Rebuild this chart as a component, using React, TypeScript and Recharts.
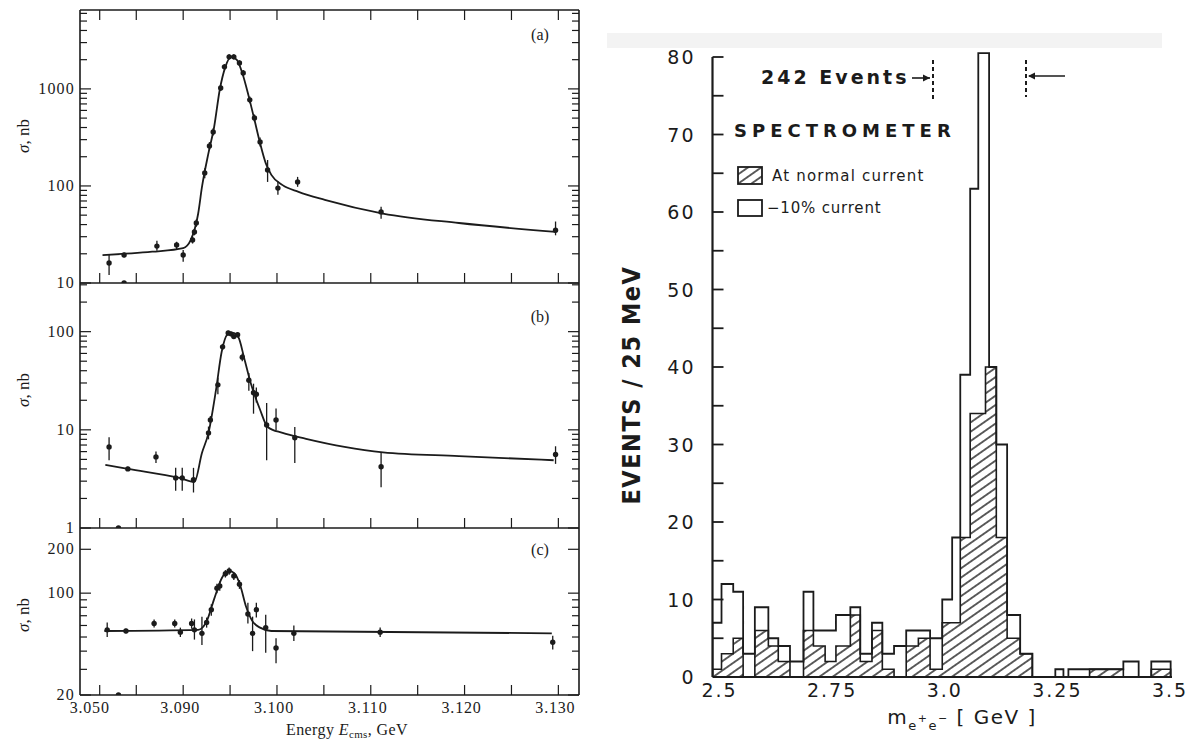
import React from "react";
import {
  ComposedChart,
  Line,
  Scatter,
  ErrorBar,
  Area,
  XAxis,
  YAxis,
  ReferenceLine,
} from "recharts";

const INK = "#1b1b1b";
const SERIF = "'Liberation Serif', 'DejaVu Serif', serif";
const SANS = "'DejaVu Sans', 'Liberation Sans', sans-serif";
const NARROW = "'Liberation Sans Narrow', 'DejaVu Sans Condensed', sans-serif";

// ---- left figure: cross sections vs. energy (GeV) ----
const energyTicks = [3.0811, 3.085, 3.09, 3.095, 3.1, 3.105, 3.11, 3.115, 3.12, 3.125, 3.13];
const energyTickLabels = ["3.050", "", "3.090", "", "3.100", "", "3.110", "", "3.120", "", "3.130"];

// (a)
const aEnergy = [3.0821, 3.0837, 3.0872, 3.0893, 3.09, 3.091, 3.0912, 3.0914, 3.0923, 3.0928, 3.0932, 3.094, 3.0944, 3.0949, 3.0954, 3.096, 3.0964, 3.0971, 3.0976, 3.0982, 3.099, 3.1001, 3.1022, 3.1111, 3.1297];
const aSigma = [16.1, 19.4, 24.0, 24.6, 19.4, 27.7, 33.6, 41.5, 136, 258, 360, 1023, 1687, 2140, 2140, 1853, 1462, 771, 502, 284, 146, 95, 110, 54, 35];
const aLow = [12.1, 18.4, 21.5, 21.9, 16.6, 25.5, 31, 38, 120, 235, 330, 950, 1580, 2010, 2010, 1740, 1360, 710, 460, 255, 110, 81, 98, 46, 31];
const aHigh = [19.5, 20.5, 27.3, 26.6, 21.9, 30, 36, 45, 152, 283, 392, 1100, 1800, 2270, 2270, 1970, 1570, 835, 545, 315, 185, 111, 124, 61, 43];
const aFitE = [3.0814, 3.0867, 3.09, 3.0908, 3.0916, 3.092, 3.0927, 3.0933, 3.0939, 3.0945, 3.0951, 3.0957, 3.0963, 3.097, 3.0976, 3.0982, 3.0988, 3.0994, 3.1006, 3.1023, 3.1051, 3.1113, 3.1194, 3.1297];
const aFitS = [19.4, 21, 22.9, 27.7, 52, 97, 219, 405, 980, 1687, 2140, 2000, 1460, 828, 480, 276, 172, 130, 102, 87, 72, 52, 41.5, 33.6];

// (b)
const bEnergy = [3.0821, 3.0841, 3.0871, 3.0892, 3.0899, 3.0911, 3.0927, 3.0929, 3.0937, 3.0942, 3.0948, 3.0951, 3.0954, 3.0958, 3.0963, 3.097, 3.0975, 3.0978, 3.0989, 3.0999, 3.1019, 3.1111, 3.1297];
const bSigma = [6.7, 4.0, 5.3, 3.24, 3.24, 3.1, 9.3, 12.6, 28.7, 70, 97, 95, 89, 93, 55, 32, 23.9, 23, 11.2, 12.6, 8.3, 4.2, 5.6];
const bLow = [4.9, 3.8, 4.6, 2.4, 2.4, 2.3, 8.0, 11.5, 23, 65, 92, 90, 84, 88, 50, 25, 14.6, 19, 4.9, 9.9, 4.6, 2.6, 4.5];
const bHigh = [8.4, 4.2, 6.0, 4.1, 4.1, 4.1, 10.8, 13.8, 34, 75, 102, 100, 94, 98, 60, 38, 29.5, 27, 18.8, 16.5, 10.7, 5.8, 6.8];
const bFitE = [3.0817, 3.0841, 3.0896, 3.0912, 3.092, 3.0927, 3.0935, 3.0941, 3.0947, 3.0953, 3.0959, 3.0965, 3.0972, 3.0982, 3.099, 3.1006, 3.1031, 3.1072, 3.1113, 3.1194, 3.1295];
const bFitS = [4.4, 4.0, 3.24, 2.95, 5.8, 9.3, 25.5, 62, 93, 97, 87, 54, 30, 16, 10.7, 9.3, 8.1, 6.7, 5.9, 5.4, 4.9];

// (c)
const cEnergy = [3.0819, 3.0839, 3.0869, 3.0891, 3.0897, 3.0909, 3.0912, 3.092, 3.0925, 3.093, 3.0936, 3.0939, 3.0945, 3.0949, 3.0954, 3.096, 3.0969, 3.0974, 3.0978, 3.0988, 3.0999, 3.1018, 3.111, 3.1294];
const cSigma = [56, 55, 62, 62, 54, 62, 56, 53, 63, 77, 108, 112, 136, 142, 131, 115, 72, 53, 77, 58, 42, 53, 54, 46];
const cLow = [50, 53, 58, 58, 50, 57, 48, 44, 58, 70, 100, 104, 128, 134, 123, 107, 62, 40, 68, 39, 33, 47, 50, 41];
const cHigh = [63, 57, 66, 66, 58, 67, 66, 69, 68, 84, 116, 120, 144, 150, 139, 123, 86, 69, 86, 71, 49, 60, 58, 51];
const cFitE = [3.0816, 3.0916, 3.0925, 3.0933, 3.0941, 3.0949, 3.0955, 3.0961, 3.0967, 3.0974, 3.0982, 3.0994, 3.1293];
const cFitS = [55, 56, 64, 91, 126, 142, 136, 112, 81, 64, 58, 55, 53];

// points sitting on the lower frame of each panel
const floorEnergy = [3.0837, 3.0831, 3.0831];

// ---- right figure: invariant mass histogram ----
const massEdges = [2.5, 2.52, 2.546, 2.568, 2.594, 2.624, 2.646, 2.672, 2.702, 2.724, 2.75, 2.774, 2.806, 2.828, 2.854, 2.877, 2.903, 2.93, 2.957, 2.983, 3.01, 3.032, 3.05, 3.072, 3.09, 3.106, 3.114, 3.13, 3.154, 3.183, 3.21, 3.261, 3.279, 3.29, 3.337, 3.412, 3.446, 3.474, 3.517];
const reducedCounts = [7, 12, 11, 3, 9, 5, 4, 2, 11, 6, 6, 8, 9, 3, 7, 3, 4, 6, 6, 5, 10, 18, 39, 63, 80.5, 80.5, 40, 30, 8, 3, 0, 1, 0, 1, 1, 2, 0, 2];
const normalCounts = [1, 3, 5, 0, 6, 4, 2, 0, 6, 4, 2, 4, 8, 2, 6, 1, 0, 4, 5, 1, 7, 7, 18, 34, 34, 40, 40, 18, 5, 3, 0, 0, 0, 0, 1, 0, 0, 1];
const massTicks = [2.5, 2.75, 3.0, 3.25, 3.5];
const massTickLabels = ["2.5", "2.75", "3.0", "3.25", "3.5"];
const countTicks = Array.from({ length: 17 }, (_, i) => i * 5);

const logTicks = (lo: number, hi: number) => {
  const out: number[] = [];
  for (let p = 0; p <= 4; p++) {
    for (let m = 1; m <= 9; m++) {
      const v = m * Math.pow(10, p);
      if (v >= lo && v <= hi) out.push(v);
    }
  }
  return out;
};

const toPoints = (e: number[], s: number[], lo: number[], hi: number[]) =>
  e.map((x, i) => ({ e: x, v: s[i], err: [s[i] - lo[i], hi[i] - s[i]] }));
const toCurve = (e: number[], s: number[]) => e.map((x, i) => ({ e: x, v: s[i] }));

const histSteps: { m: number; reduced: number; normal: number }[] = [{ m: massEdges[0], reduced: 0, normal: 0 }];
reducedCounts.forEach((c, i) => histSteps.push({ m: massEdges[i], reduced: c, normal: normalCounts[i] }));
histSteps.push({ m: massEdges[massEdges.length - 1], reduced: 0, normal: 0 });

// ---- tick renderers (ticks point inwards) ----
const leftTick = (majors: number[]) => (p: any) => {
  const v = p.payload.value;
  const major = majors.includes(v);
  return (
    <g>
      <line x1={p.x} x2={p.x + (major ? 11 : 7)} y1={p.y} y2={p.y} stroke={INK} strokeWidth={1.2} />
      {major && (
        <text x={p.x - 5} y={p.y + 5} textAnchor="end" fontFamily={SERIF} fontSize={16} fill={INK} letterSpacing={1.2}>
          {v}
        </text>
      )}
    </g>
  );
};

const rightTick = (majors: number[]) => (p: any) => {
  const major = majors.includes(p.payload.value);
  return <line x1={p.x} x2={p.x - (major ? 11 : 7)} y1={p.y} y2={p.y} stroke={INK} strokeWidth={1.2} />;
};

const bottomTick = (withLabels: boolean) => (p: any) => (
  <g>
    <line x1={p.x} x2={p.x} y1={p.y} y2={p.y - 10} stroke={INK} strokeWidth={1.2} />
    {withLabels && energyTickLabels[p.index] && (
      <text x={p.x + (p.index === 0 ? -10 : -3)} y={p.y + 18} textAnchor="middle" fontFamily={SERIF} fontSize={16} fill={INK} letterSpacing={0.8}>
        {energyTickLabels[p.index]}
      </text>
    )}
  </g>
);

const topTick = (p: any) => <line x1={p.x} x2={p.x} y1={p.y} y2={p.y + 10} stroke={INK} strokeWidth={1.2} />;

const countTick = (p: any) => {
  const v = p.payload.value;
  return (
    <g>
      {v > 0 && <line x1={p.x} x2={p.x + 11} y1={p.y} y2={p.y} stroke={INK} strokeWidth={1.8} />}
      {v % 10 === 0 && (
        <text x={p.x - 17} y={p.y + 7} textAnchor="end" fontFamily={SANS} fontSize={19} fill={INK} letterSpacing={2}>
          {v}
        </text>
      )}
    </g>
  );
};

const massTick = (p: any) => (
  <text x={p.x + 7} y={p.y + 20} textAnchor="middle" fontFamily={SANS} fontSize={19} fill={INK} letterSpacing={2}>
    {massTickLabels[p.index]}
  </text>
);

const Dot = (p: any) => <circle cx={p.cx} cy={p.cy} r={2.7} fill={INK} />;

type PanelProps = {
  top: number;
  marginTop: number;
  plotHeight: number;
  bottomHeight: number;
  showTop?: boolean;
  showLabels?: boolean;
  points: any[];
  curve: any[];
  floor: number;
  floorE: number;
  domain: [number, number];
  majors: number[];
};

function SigmaPanel(props: PanelProps) {
  const { top, marginTop, plotHeight, bottomHeight, showTop, showLabels, points, curve, floor, floorE, domain, majors } = props;
  const height = marginTop + (showTop ? 1 : 0) + plotHeight + bottomHeight;
  const ticks = logTicks(domain[0], domain[1]);
  const frame = { stroke: INK, strokeWidth: 1.6 };
  return (
    <div style={{ position: "absolute", left: 0, top }}>
      <ComposedChart width={585} height={height} margin={{ top: marginTop, right: 5, bottom: 0, left: 30 }}>
        <XAxis xAxisId="b" type="number" dataKey="e" domain={[3.079, 3.1322]} allowDataOverflow ticks={energyTicks}
          interval={0} height={bottomHeight} axisLine={frame} tickLine={false} tickSize={0} tickMargin={0}
          tick={bottomTick(!!showLabels)} />
        {showTop && (
          <XAxis xAxisId="t" orientation="top" type="number" dataKey="e" domain={[3.079, 3.1322]} allowDataOverflow
            ticks={energyTicks} interval={0} height={1} axisLine={frame} tickLine={false} tickSize={0} tickMargin={0}
            tick={topTick} />
        )}
        <YAxis yAxisId="l" type="number" scale="log" dataKey="v" domain={domain} allowDataOverflow ticks={ticks}
          interval={0} width={50} axisLine={frame} tickLine={false} tickSize={0} tickMargin={0} tick={leftTick(majors)} />
        <YAxis yAxisId="r" orientation="right" type="number" scale="log" dataKey="v" domain={domain} allowDataOverflow
          ticks={ticks} interval={0} width={1} axisLine={frame} tickLine={false} tickSize={0} tickMargin={0}
          tick={rightTick(majors)} />
        <Line xAxisId={showTop ? "t" : "b"} yAxisId="r" data={curve} dataKey="v" stroke="none" dot={false} isAnimationActive={false} />
        <Line xAxisId="b" yAxisId="l" data={curve} dataKey="v" type="monotone" stroke={INK} strokeWidth={1.8}
          dot={false} isAnimationActive={false} />
        <Scatter xAxisId="b" yAxisId="l" data={points} dataKey="v" shape={Dot} isAnimationActive={false}>
          <ErrorBar dataKey="err" direction="y" width={0} stroke={INK} strokeWidth={1.3} isAnimationActive={false} />
        </Scatter>
        <Scatter xAxisId="b" yAxisId="l" data={[{ e: floorE, v: floor }]} dataKey="v" shape={Dot} isAnimationActive={false} />
      </ComposedChart>
    </div>
  );
}

export default function App() {
  return (
    <div style={{ position: "absolute", left: 0, top: 0, width: 1194, height: 743, background: "#fff", overflow: "hidden" }}>
      <style>{`.recharts-surface { overflow: visible; }`}</style>
      <svg width={0} height={0} style={{ position: "absolute" }}>
        <defs>
          <pattern id="hatch" patternUnits="userSpaceOnUse" width={10} height={7.6} patternTransform="rotate(-35)">
            <line x1={0} y1={3.8} x2={10} y2={3.8} stroke={INK} strokeWidth={1.4} />
          </pattern>
        </defs>
      </svg>
      <svg width={1194} height={743} style={{ position: "absolute", left: 0, top: 0 }}>
        <rect x={607} y={33} width={555} height={15} fill="#f3f3f3" />
      </svg>

      <SigmaPanel top={0} marginTop={9} plotHeight={273} bottomHeight={1} showTop
        points={toPoints(aEnergy, aSigma, aLow, aHigh)} curve={toCurve(aFitE, aFitS)}
        floor={10} floorE={floorEnergy[0]} domain={[10, 6500]} majors={[10, 100, 1000]} />
      <SigmaPanel top={282} marginTop={1} plotHeight={245} bottomHeight={1}
        points={toPoints(bEnergy, bSigma, bLow, bHigh)} curve={toCurve(bFitE, bFitS)}
        floor={1} floorE={floorEnergy[1]} domain={[1, 313]} majors={[1, 10, 100]} />
      <SigmaPanel top={527} marginTop={1} plotHeight={167} bottomHeight={30} showLabels
        points={toPoints(cEnergy, cSigma, cLow, cHigh)} curve={toCurve(cFitE, cFitS)}
        floor={20} floorE={floorEnergy[2]} domain={[20, 280]} majors={[20, 100, 200]} />

      <div style={{ position: "absolute", left: 600, top: 0 }}>
        <ComposedChart width={582} height={707} data={histSteps} margin={{ top: 41.5, right: 10, bottom: 0, left: 52.5 }}>
          <XAxis type="number" dataKey="m" domain={[2.5, 3.52]} allowDataOverflow ticks={massTicks} interval={0}
            height={30} axisLine={{ stroke: INK, strokeWidth: 1.8 }} tickLine={false} tickSize={0} tickMargin={0} tick={massTick} />
          <YAxis type="number" domain={[0, 82]} allowDataOverflow ticks={countTicks} interval={0} width={60}
            axisLine={false} tickLine={false} tickSize={0} tickMargin={0} tick={countTick} />
          <Area type="stepAfter" dataKey="normal" stroke={INK} strokeWidth={1.6} fill="url(#hatch)" fillOpacity={1}
            dot={false} activeDot={false} isAnimationActive={false} />
          <Area type="stepAfter" dataKey="reduced" stroke={INK} strokeWidth={1.8} fill="none"
            dot={false} activeDot={false} isAnimationActive={false} />
          <ReferenceLine segment={[{ x: 2.5, y: 0 }, { x: 2.5, y: 80 }]} stroke={INK} strokeWidth={2.2} />
        </ComposedChart>
      </div>

      <svg width={1194} height={743} style={{ position: "absolute", left: 0, top: 0, pointerEvents: "none" }}>
        <g fontFamily={SERIF} fill={INK}>
          <text x={540} y={40} fontSize={16} textAnchor="middle">(a)</text>
          <text x={540} y={322} fontSize={16} textAnchor="middle">(b)</text>
          <text x={540} y={555} fontSize={16} textAnchor="middle">(c)</text>
          {[136, 390, 615].map((cy) => (
            <text key={cy} transform={`translate(29 ${cy}) rotate(-90)`} fontSize={17} textAnchor="middle">
              <tspan fontStyle="italic">σ</tspan>, nb
            </text>
          ))}
          <text x={347} y={735} fontSize={16} textAnchor="middle" letterSpacing={0.4}>
            Energy <tspan fontStyle="italic">E</tspan>
            <tspan fontSize={11} dy={3}>cms</tspan>
            <tspan dy={-3}>, GeV</tspan>
          </text>
        </g>

        <g fontFamily={SANS} fill={INK}>
          <text x={761} y={84} fontSize={19} fontWeight="bold" letterSpacing={3}>242 Events</text>
          <line x1={912} y1={78} x2={930} y2={78} stroke={INK} strokeWidth={1.6} />
          <path d="M930 78 L923 74.5 L923 81.5 Z" fill={INK} />
          <line x1={933} y1={60} x2={933} y2={101} stroke={INK} strokeWidth={2} strokeDasharray="4 3" />
          <line x1={1026} y1={60} x2={1026} y2={97} stroke={INK} strokeWidth={2} strokeDasharray="4 3" />
          <line x1={1029} y1={76} x2={1065} y2={76} stroke={INK} strokeWidth={1.6} />
          <path d="M1028 76 L1035 72.5 L1035 79.5 Z" fill={INK} />

          <text x={734} y={137} fontSize={18} fontWeight="bold" letterSpacing={5}>SPECTROMETER</text>
          <rect x={738} y={167} width={24} height={17} fill="url(#hatch)" stroke={INK} strokeWidth={1.8} />
          <text x={772} y={181} fontSize={15} letterSpacing={1.2}>At normal current</text>
          <rect x={738} y={200} width={24} height={16} fill="none" stroke={INK} strokeWidth={1.8} />
          <text x={767} y={213} fontSize={15} letterSpacing={0.8}>−10% current</text>

          <text transform="translate(640 385) rotate(-90)" fontFamily={NARROW} fontSize={25} fontWeight="bold"
            textAnchor="middle" letterSpacing={1.5}>
            EVENTS / 25 MeV
          </text>
          <text x={962} y={724} fontSize={20} textAnchor="middle" letterSpacing={1.5}>
            m<tspan fontSize={13} dy={6}>e</tspan>
            <tspan fontSize={11} dy={-8}>+</tspan>
            <tspan fontSize={13} dy={8}>e</tspan>
            <tspan fontSize={11} dy={-8}>−</tspan>
            <tspan dy={2}> [ GeV ]</tspan>
          </text>
        </g>
      </svg>
    </div>
  );
}
